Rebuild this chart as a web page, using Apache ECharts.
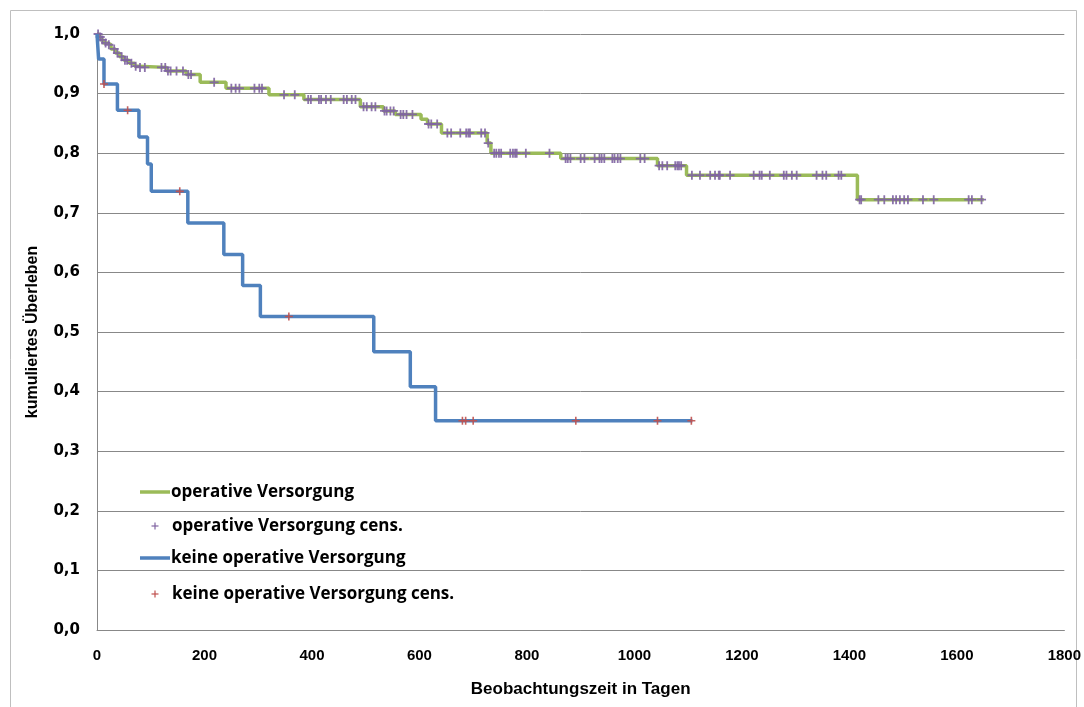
<!DOCTYPE html>
<html>
<head>
<meta charset="utf-8">
<script src="https://cdn.jsdelivr.net/npm/echarts@6/dist/echarts.min.js"></script>
<style>
  html, body { margin: 0; padding: 0; background: #fff; }
  #chart { width: 1084px; height: 707px; }
</style>
</head>
<body>
<div id="chart"></div>
<script>
// Kaplan-Meier survival: time (days) where the curve steps, and survival after that step.
// The last entry of each list marks the end of follow-up.
const opTimes = [0, 4, 8, 12, 18, 26, 34, 42, 50, 60, 70, 76, 130, 166, 192, 240, 320, 385, 490, 533, 555, 603, 615, 641, 726, 733, 863, 1043, 1097, 1415, 1650];
const opSurv  = [1.0, 0.995, 0.990, 0.985, 0.982, 0.975, 0.968, 0.962, 0.956, 0.951, 0.946, 0.944, 0.938, 0.932, 0.919, 0.909, 0.898, 0.890, 0.878, 0.871, 0.865, 0.857, 0.849, 0.834, 0.817, 0.800, 0.791, 0.779, 0.763, 0.722, 0.722];
// Censored observations (days)
const opCens = [2, 6, 10, 16, 22, 32, 38, 46, 52, 56, 64, 72, 80, 89, 120, 127, 132, 137, 148, 160, 170, 175, 218, 250, 258, 265, 293, 302, 307, 348, 368, 393, 398, 413, 417, 426, 435, 459, 465, 474, 481, 496, 502, 511, 518, 535, 539, 546, 552, 565, 570, 576, 587, 617, 622, 633, 652, 659, 676, 687, 691, 694, 715, 722, 728, 739, 743, 748, 752, 769, 774, 778, 781, 798, 842, 872, 876, 881, 900, 907, 926, 935, 939, 944, 959, 963, 969, 974, 1011, 1019, 1046, 1052, 1061, 1076, 1080, 1083, 1087, 1107, 1122, 1141, 1150, 1157, 1159, 1178, 1222, 1233, 1237, 1252, 1278, 1283, 1293, 1302, 1339, 1350, 1357, 1380, 1385, 1419, 1422, 1454, 1465, 1481, 1487, 1494, 1502, 1509, 1537, 1557, 1622, 1628, 1646];

const noOpTimes = [0, 3, 13, 38, 78, 94, 101, 169, 236, 271, 304, 515, 583, 630, 1108];
const noOpSurv  = [1.0, 0.958, 0.916, 0.872, 0.827, 0.782, 0.736, 0.683, 0.630, 0.578, 0.526, 0.467, 0.408, 0.351, 0.351];
const noOpCens  = [13, 57, 154, 357, 680, 686, 700, 891, 1043, 1106];

const xTicks = [0, 200, 400, 600, 800, 1000, 1200, 1400, 1600, 1800];
const yTicks = [0, 0.1, 0.2, 0.3, 0.4, 0.5, 0.6, 0.7, 0.8, 0.9, 1.0];

const seriesNames = ['operative Versorgung', 'operative Versorgung cens.', 'keine operative Versorgung', 'keine operative Versorgung cens.'];

const GREEN = '#9BBB59', BLUE = '#4F81BD', PURPLE = '#8064A2', RED = '#C0504D';
const PLUS = 'path://M0,4 L10,4 L10,6 L0,6 Z M4,0 L6,0 L6,10 L4,10 Z';

function pairs(ts, vs) { return ts.map((t, i) => [t, vs[i]]); }
// survival value in effect at time t (step function lookup)
function survAt(ts, vs, t) {
  let s = vs[0];
  for (let i = 0; i < ts.length; i++) { if (ts[i] <= t) s = vs[i]; else break; }
  return s;
}
function censPoints(cens, ts, vs) { return cens.map(t => [t, survAt(ts, vs, t)]); }

const AXIS_FONT = "'Liberation Sans', Arial, sans-serif";
const LEGEND_FONT = "'Open Sans', 'Noto Sans', sans-serif";

const chart = echarts.init(document.getElementById('chart'), null, { renderer: 'canvas' });

function legendRow(y, kind, color, text) {
  const els = [];
  if (kind === 'line') {
    els.push({ type: 'line', shape: { x1: 140, y1: y, x2: 170, y2: y }, style: { stroke: color, lineWidth: 3.5 } });
    els.push({ type: 'text', x: 171, y: y, style: { text: text, fill: '#000', font: 'bold 17px ' + LEGEND_FONT, textVerticalAlign: 'middle' } });
  } else {
    els.push({ type: 'line', shape: { x1: 151.5, y1: y, x2: 158.5, y2: y }, style: { stroke: color, lineWidth: 1.2 } });
    els.push({ type: 'line', shape: { x1: 155, y1: y - 3.5, x2: 155, y2: y + 3.5 }, style: { stroke: color, lineWidth: 1.2 } });
    els.push({ type: 'text', x: 172, y: y, style: { text: text, fill: '#000', font: 'bold 17px ' + LEGEND_FONT, textVerticalAlign: 'middle' } });
  }
  return els;
}

const option = {
  animation: false,
  backgroundColor: '#fff',
  grid: { left: 97, right: 15, top: 34, bottom: 77, containLabel: false },
  xAxis: {
    type: 'value', min: 0, max: 1800, interval: 200,
    name: 'Beobachtungszeit in Tagen', nameLocation: 'middle', nameGap: 51,
    nameTextStyle: { fontFamily: AXIS_FONT, fontWeight: 'bold', fontSize: 17, color: '#000' },
    axisLine: { show: true, lineStyle: { color: '#888', width: 1 } },
    axisTick: { show: false },
    splitLine: { show: false },
    axisLabel: {
      margin: 18, color: '#000', fontFamily: AXIS_FONT, fontWeight: 'bold', fontSize: 15,
      customValues: xTicks,
      formatter: v => String(v)
    }
  },
  yAxis: {
    type: 'value', min: 0, max: 1, interval: 0.1,
    name: 'kumuliertes Überleben', nameLocation: 'middle', nameGap: 56, nameRotate: 90,
    nameTextStyle: { fontFamily: AXIS_FONT, fontWeight: 'bold', fontSize: 16, color: '#000' },
    axisLine: { show: true, lineStyle: { color: '#888', width: 1 } },
    axisTick: { show: false },
    splitLine: { show: true, lineStyle: { color: '#888', width: 1 } },
    axisLabel: {
      margin: 17, color: '#000', fontFamily: "'DejaVu Sans', sans-serif", fontWeight: 'bold', fontSize: 15,
      customValues: yTicks,
      formatter: v => v.toFixed(1).replace('.', ',')
    }
  },
  series: [
    {
      name: seriesNames[0], type: 'line', step: 'end', showSymbol: false,
      data: pairs(opTimes, opSurv),
      lineStyle: { color: GREEN, width: 3.5 }, itemStyle: { color: GREEN }, z: 2
    },
    {
      name: seriesNames[1], type: 'scatter', symbol: PLUS, symbolSize: 9,
      data: censPoints(opCens, opTimes, opSurv),
      itemStyle: { color: PURPLE, opacity: 0.9 }, z: 3
    },
    {
      name: seriesNames[2], type: 'line', step: 'end', showSymbol: false,
      data: pairs(noOpTimes, noOpSurv),
      lineStyle: { color: BLUE, width: 3.5 }, itemStyle: { color: BLUE }, z: 4
    },
    {
      name: seriesNames[3], type: 'scatter', symbol: PLUS, symbolSize: 8,
      data: censPoints(noOpCens, noOpTimes, noOpSurv),
      itemStyle: { color: RED, opacity: 0.9 }, z: 5
    }
  ],
  graphic: [
    { type: 'rect', shape: { x: 10.5, y: 10.5, width: 1066, height: 700 }, style: { fill: 'none', stroke: '#BFBFBF', lineWidth: 1 }, silent: true, z: -1 }
  ]
    .concat(legendRow(492, 'line', GREEN, seriesNames[0]))
    .concat(legendRow(526, 'plus', PURPLE, seriesNames[1]))
    .concat(legendRow(558, 'line', BLUE, seriesNames[2]))
    .concat(legendRow(594, 'plus', RED, seriesNames[3]))
};

chart.setOption(option);
</script>
</body>
</html>
